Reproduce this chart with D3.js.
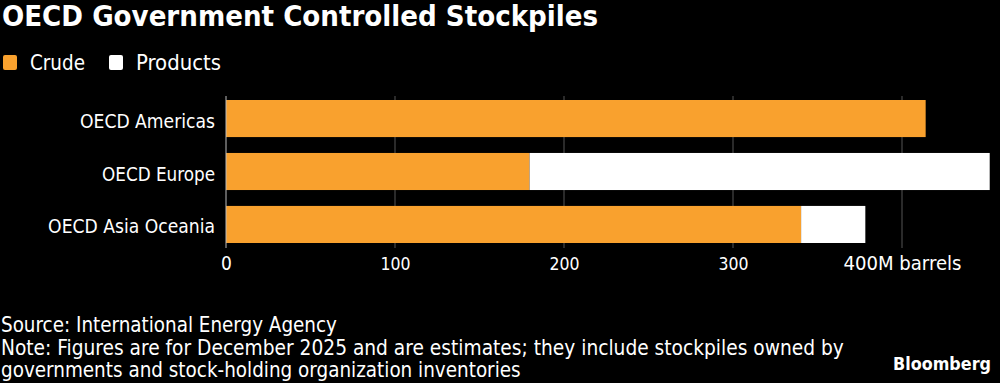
<!DOCTYPE html>
<html><head><meta charset="utf-8">
<script src="https://cdn.jsdelivr.net/npm/d3@7"></script>
<style>
html,body{margin:0;padding:0;background:#000;}
svg{display:block;}
</style></head>
<body>
<svg id="c" width="1000" height="383"></svg>
<script>
const categories = ["OECD Americas", "OECD Europe", "OECD Asia Oceania"];
const crude = [414, 179.6, 340.3];
const products = [0, 272.3, 38];
const tickValues = [0, 100, 200, 300, 400];
const tickLabels = ["0", "100", "200", "300", "400M barrels"];
const seriesNames = ["Crude", "Products"];
const colors = ["#f9a12e", "#ffffff"];

const FONT = "'DejaVu Sans Condensed','DejaVu Sans',sans-serif";
const svg = d3.select("#c");
svg.append("rect").attr("width",1000).attr("height",383).attr("fill","#000");

// scale a text's font size so its rendered width equals a target width
function fit(sel, target){
  sel.each(function(){
    const fs = parseFloat(this.getAttribute("font-size"));
    const w = this.getComputedTextLength();
    if (w > 0) this.setAttribute("font-size", (fs*target/w).toFixed(2));
  });
  return sel;
}

const x = d3.scaleLinear().domain([0,400]).range([226,902]);
const y = d3.scaleBand().domain(categories).range([100,243]).paddingInner(0.3).paddingOuter(0);

// title
fit(svg.append("text").attr("x",2).attr("y",26).text("OECD Government Controlled Stockpiles")
  .attr("fill","#fff").attr("font-family",FONT).attr("font-weight","bold").attr("font-size",26), 596);

// legend
const lg = svg.append("g");
const legX = [3, 109];
const legW = [55, 85];
seriesNames.forEach((n,i)=>{
  lg.append("rect").attr("x",legX[i]).attr("y",55).attr("width",14).attr("height",15).attr("rx",2).attr("fill",colors[i]);
  fit(lg.append("text").attr("x",legX[i]+27).attr("y",70).text(n).attr("fill","#fff")
    .attr("font-family",FONT).attr("font-size",20), legW[i]);
});

// gridlines
svg.append("g").selectAll("line").data(tickValues.slice(1)).join("line")
  .attr("x1",d=>x(d)).attr("x2",d=>x(d)).attr("y1",96).attr("y2",248)
  .attr("stroke","#555").attr("stroke-width",1);

// bars
const data = categories.map((c,i)=>({c, crude:crude[i], products:products[i]}));
const stack = d3.stack().keys(["crude","products"])(data);
svg.append("g").selectAll("g").data(stack).join("g").attr("fill",(d,i)=>colors[i])
  .selectAll("rect").data(d=>d).join("rect")
  .attr("x",d=>x(d[0])).attr("width",d=>x(d[1])-x(d[0]))
  .attr("y",d=>y(d.data.c)).attr("height",y.bandwidth());

// zero line
svg.append("line").attr("x1",x(0)).attr("x2",x(0)).attr("y1",96).attr("y2",248)
  .attr("stroke","#bbb").attr("stroke-width",1);

// category labels
const catW = [135, 113, 167];
svg.append("g").selectAll("text").data(categories).join("text")
  .attr("x",215).attr("y",d=>y(d)+y.bandwidth()/2+9).attr("text-anchor","end")
  .text(d=>d).attr("fill","#fff").attr("font-family",FONT).attr("font-size",19)
  .each(function(d,i){ fit(d3.select(this), catW[i]); });

// x axis labels
const xa = svg.append("g").attr("transform","translate(0,270)")
  .call(d3.axisBottom(x).tickValues(tickValues).tickSize(0).tickPadding(0).tickFormat((d,i)=>tickLabels[i]));
xa.select(".domain").remove();
xa.selectAll("text").attr("fill","#fff").attr("font-family",FONT).attr("font-size",19).attr("dy","0");
fit(xa.selectAll("text").filter((d,i)=>i===tickLabels.length-1), 118);
fit(xa.selectAll("text").filter((d,i)=>i>0 && i<tickLabels.length-1), 30);

// footer
const foot = ["Source: International Energy Agency",
  "Note: Figures are for December 2025 and are estimates; they include stockpiles owned by",
  "governments and stock-holding organization inventories"];
const footW = [336, 843, 520];
svg.append("g").selectAll("text").data(foot).join("text")
  .attr("x",1).attr("y",(d,i)=>[332,355,377][i]).text(d=>d).attr("fill","#fff")
  .attr("font-family",FONT).attr("font-size",19)
  .each(function(d,i){ fit(d3.select(this), footW[i]); });
fit(svg.append("text").attr("x",991).attr("y",370).attr("text-anchor","end").text("Bloomberg")
  .attr("fill","#fff").attr("font-family",FONT).attr("font-weight","bold").attr("font-size",19), 98);
</script>
</body></html>
